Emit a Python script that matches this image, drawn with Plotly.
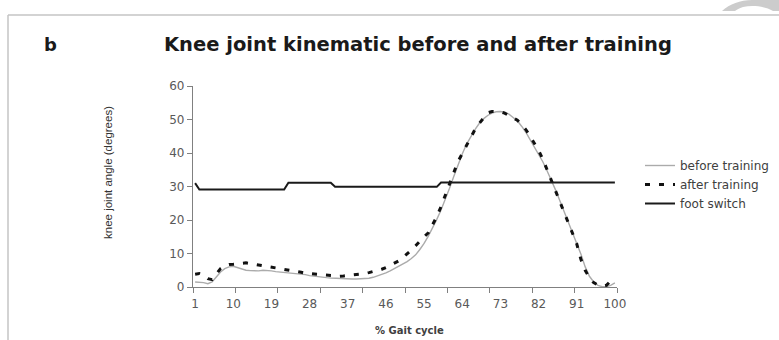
import plotly.graph_objects as go

gait = list(range(1, 101))

before_training = [
    1.5, 1.5, 1.3, 1.0, 1.5, 3.0, 4.5, 5.5, 6.0, 6.2,
    5.8, 5.3, 5.0, 4.9, 4.8, 4.8, 5.0, 5.0, 4.8, 4.6,
    4.5, 4.4, 4.3, 4.2, 4.1, 4.0, 3.7, 3.4, 3.2, 3.0,
    2.9, 2.8, 2.7, 2.6, 2.5, 2.5, 2.4, 2.4, 2.4, 2.4,
    2.5, 2.6, 2.9, 3.3, 3.7, 4.2, 4.8, 5.5, 6.1, 6.8,
    7.6, 8.5, 9.6, 11.2, 13.0, 15.2, 17.6, 20.2, 23.0, 26.0,
    29.5, 33.0, 36.5, 39.7, 42.6, 45.0, 47.0, 48.8, 50.2, 51.2,
    51.9, 52.3, 52.4, 52.2, 51.6, 50.6, 49.6, 48.0, 46.2, 44.0,
    41.8, 39.6, 37.4, 34.7, 32.0, 29.0, 25.8, 22.6, 19.6, 16.6,
    13.4, 9.8, 6.0, 3.2, 1.5, 0.5, 0.1, 0.1, 0.5, 1.2,
]

after_training = [
    3.8, 4.0, 3.5, 2.5, 2.2, 4.0, 5.5, 6.3, 6.7, 6.8,
    7.0, 7.2, 7.2, 7.0, 6.8, 6.6, 6.4, 6.2, 6.0, 5.7,
    5.4, 5.2, 5.0, 4.8, 4.6, 4.4, 4.1, 4.0, 3.8, 3.6,
    3.5, 3.4, 3.3, 3.2, 3.2, 3.3, 3.4, 3.5, 3.6, 3.8,
    4.0, 4.3, 4.6, 5.0, 5.3, 5.8, 6.4, 7.0, 7.8, 8.8,
    9.8, 11.0, 12.3, 13.8, 15.0, 16.2, 18.6, 21.0, 24.0, 27.5,
    31.0, 34.5, 37.5, 39.8, 42.2, 44.8, 47.0, 48.8, 50.5, 52.0,
    52.4, 52.4, 52.3, 51.9, 51.3, 50.5, 49.8, 48.5, 47.0, 45.0,
    42.9, 40.8, 38.2, 35.0, 32.0, 28.8, 25.8, 22.6, 19.5, 16.3,
    12.9, 8.2, 5.0, 2.7, 1.3, 0.6, 0.2, 0.5, 1.8, 2.6,
]

foot_switch = (
    [31.0]
    + [29.1] * 21
    + [31.1] * 11
    + [29.9] * 25
    + [31.2] * 42
)

tick_labels = [1, 10, 19, 28, 37, 46, 55, 64, 73, 82, 91, 100]
y_ticks = [0, 10, 20, 30, 40, 50, 60]

# plot area in pixels (for converting decoration positions)
L, R, T, B = 193, 617, 86, 287


def px(xpix):
    return (xpix - L) / (R - L)


def py(ypix):
    return (B - ypix) / (B - T)


fig = go.Figure()
fig.add_trace(go.Scatter(
    x=gait, y=before_training, mode="lines", name="before training",
    line=dict(color="#ababab", width=1.4),
))
fig.add_trace(go.Scatter(
    x=gait, y=after_training, mode="lines", name="after training",
    line=dict(color="#111111", width=3, dash="5px,9px"),
))
fig.add_trace(go.Scatter(
    x=gait, y=foot_switch, mode="lines", name="foot switch",
    line=dict(color="#1a1a1a", width=2),
))

tickfont = dict(family="DejaVu Sans", size=12, color="#595959")

fig.update_layout(
    width=779, height=340,
    margin=dict(l=L, r=779 - R, t=T, b=340 - B, autoexpand=False),
    paper_bgcolor="white", plot_bgcolor="white",
    showlegend=True,
    legend=dict(
        x=px(640), y=py(151), xanchor="left", yanchor="top",
        font=dict(family="DejaVu Sans", size=12, color="#404040"),
        bgcolor="rgba(0,0,0,0)", borderwidth=0,
        tracegroupgap=0,
    ),
    xaxis=dict(
        range=[0.5, 100.5], showgrid=False, zeroline=False,
        showline=True, linecolor="#808080", linewidth=1.2,
        tickmode="array", tickvals=tick_labels,
        ticktext=[str(v) for v in tick_labels],
        ticks="", tickfont=tickfont, ticklabelstandoff=5,
        minor=dict(tickmode="array",
                   tickvals=[0.5 + 10 * k for k in range(11)],
                   ticks="outside", ticklen=5, tickcolor="#808080",
                   tickwidth=1.2, showgrid=False),
        fixedrange=True,
    ),
    yaxis=dict(
        range=[0, 60], showgrid=False, zeroline=False,
        showline=True, linecolor="#808080", linewidth=1.2,
        tickmode="array", tickvals=y_ticks,
        ticks="outside", ticklen=5, tickcolor="#808080", tickwidth=1.2,
        tickfont=tickfont, fixedrange=True,
    ),
)

fig.add_annotation(
    text="Knee joint kinematic before and after training",
    xref="paper", yref="paper", x=px(418), y=py(45),
    xanchor="center", yanchor="middle", showarrow=False,
    font=dict(family="DejaVu Sans", size=19.5, color="#1a1a1a", weight="bold"),
)
fig.add_annotation(
    text="b", xref="paper", yref="paper", x=px(50), y=py(44),
    xanchor="center", yanchor="middle", showarrow=False,
    font=dict(family="DejaVu Sans", size=18, color="#1a1a1a", weight="bold"),
)
fig.add_annotation(
    text="knee joint angle (degrees)", xref="paper", yref="paper",
    x=px(108), y=py(173), xanchor="center", yanchor="middle",
    textangle=-90, showarrow=False,
    font=dict(family="Liberation Sans Narrow, Liberation Sans", size=11.5,
              color="#333333"),
)
fig.add_annotation(
    text="% Gait cycle", xref="paper", yref="paper",
    x=px(409), y=py(330), xanchor="center", yanchor="middle",
    showarrow=False,
    font=dict(family="DejaVu Sans", size=10, color="#404040", weight="bold"),
)

# frame of the figure panel
fig.add_shape(type="line", xref="paper", yref="paper",
              x0=px(8), x1=px(779), y0=py(15), y1=py(15),
              line=dict(color="#c4c4c4", width=1.5))
fig.add_shape(type="line", xref="paper", yref="paper",
              x0=px(8), x1=px(8), y0=py(15), y1=py(340),
              line=dict(color="#c4c4c4", width=1.5))

# page curl blob at top right
pts = [("M", 722, 11), ("C", 730, 4, 740, 0, 752, 0), ("L", 779, 0),
       ("L", 779, 11), ("L", 773, 11), ("C", 765, 6, 752, 5, 743, 7),
       ("C", 739, 8, 737, 10, 735, 11)]
path = ""
for p in pts:
    cmd = p[0]
    coords = p[1:]
    segs = []
    for i in range(0, len(coords), 2):
        segs.append(f"{px(coords[i]):.5f},{py(coords[i+1]):.5f}")
    path += cmd + " " + " ".join(segs) + " "
path += "Z"
fig.add_shape(type="path", xref="paper", yref="paper", path=path,
              fillcolor="#cccccc", line=dict(width=0))

fig.write_html(
    "out.html",
    config={"displayModeBar": False},
    post_script="document.body.style.margin='0';document.body.style.overflow='hidden';",
)
